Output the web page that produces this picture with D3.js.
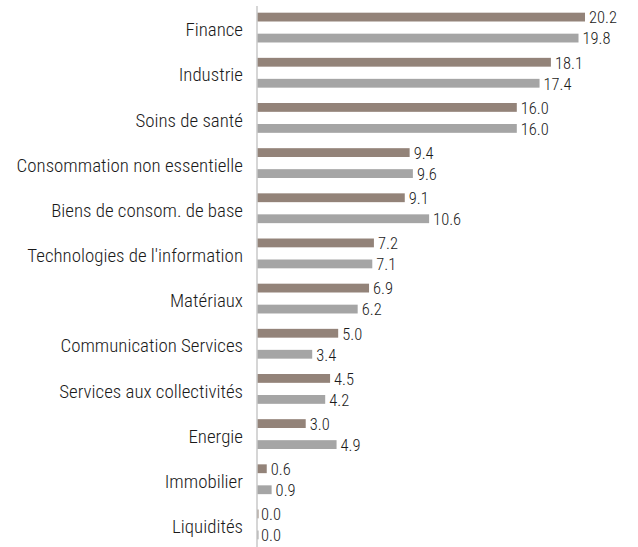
<!DOCTYPE html>
<html><head><meta charset="utf-8">
<script src="https://cdn.jsdelivr.net/npm/d3@7"></script>
<style>
body{margin:0;background:#fff;}
text{font-family:"Liberation Sans Narrow","Arial Narrow","Roboto Condensed",Roboto,sans-serif;font-weight:300;}
</style></head><body>
<svg id="c" width="638" height="547"></svg>
<script>
const categories = ["Finance","Industrie","Soins de santé","Consommation non essentielle","Biens de consom. de base","Technologies de l'information","Matériaux","Communication Services","Services aux collectivités","Energie","Immobilier","Liquidités"];
const series1 = [20.2,18.1,16.0,9.4,9.1,7.2,6.9,5.0,4.5,3.0,0.6,0.0];
const series2 = [19.8,17.4,16.0,9.6,10.6,7.1,6.2,3.4,4.2,4.9,0.9,0.0];
const seriesNames = ["s1","s2"];
const colors = ["#938379","#a5a5a5"];

const svg = d3.select("#c");
const x = d3.scaleLinear().domain([0,20.2]).range([257,585]);
const y = d3.scaleBand().domain(categories).range([5,547]).paddingInner(0.34).paddingOuter(0.17);
const sub = d3.scaleBand().domain(seriesNames).range([0,y.bandwidth()]).paddingInner(0.58);

const data = categories.map((c,i)=>({c, v:[series1[i],series2[i]]}));

const g = svg.append("g");
data.forEach(d=>{
  d.v.forEach((v,k)=>{
    const by = y(d.c)+sub(seriesNames[k]);
    g.append("rect").attr("x",x(0)).attr("y",by).attr("width",Math.max(1.5,x(v)-x(0))).attr("height",sub.bandwidth()).attr("fill",colors[k]);
    g.append("text").attr("x",x(v)+4).attr("y",by+sub.bandwidth()/2+0.5).attr("dy","0.35em")
      .attr("font-size",16.5).attr("fill","#1a1a1a").text(v.toFixed(1));
  });
  g.append("text").attr("x",243).attr("y",y(d.c)+y.bandwidth()/2+2).attr("dy","0.35em")
    .attr("text-anchor","end").attr("font-size",18.9).attr("fill","#1a1a1a").text(d.c);
});
svg.append("line").attr("x1",257).attr("x2",257).attr("y1",6).attr("y2",547).attr("stroke","#c8c8c8").attr("stroke-width",1.5);
</script></body></html>
